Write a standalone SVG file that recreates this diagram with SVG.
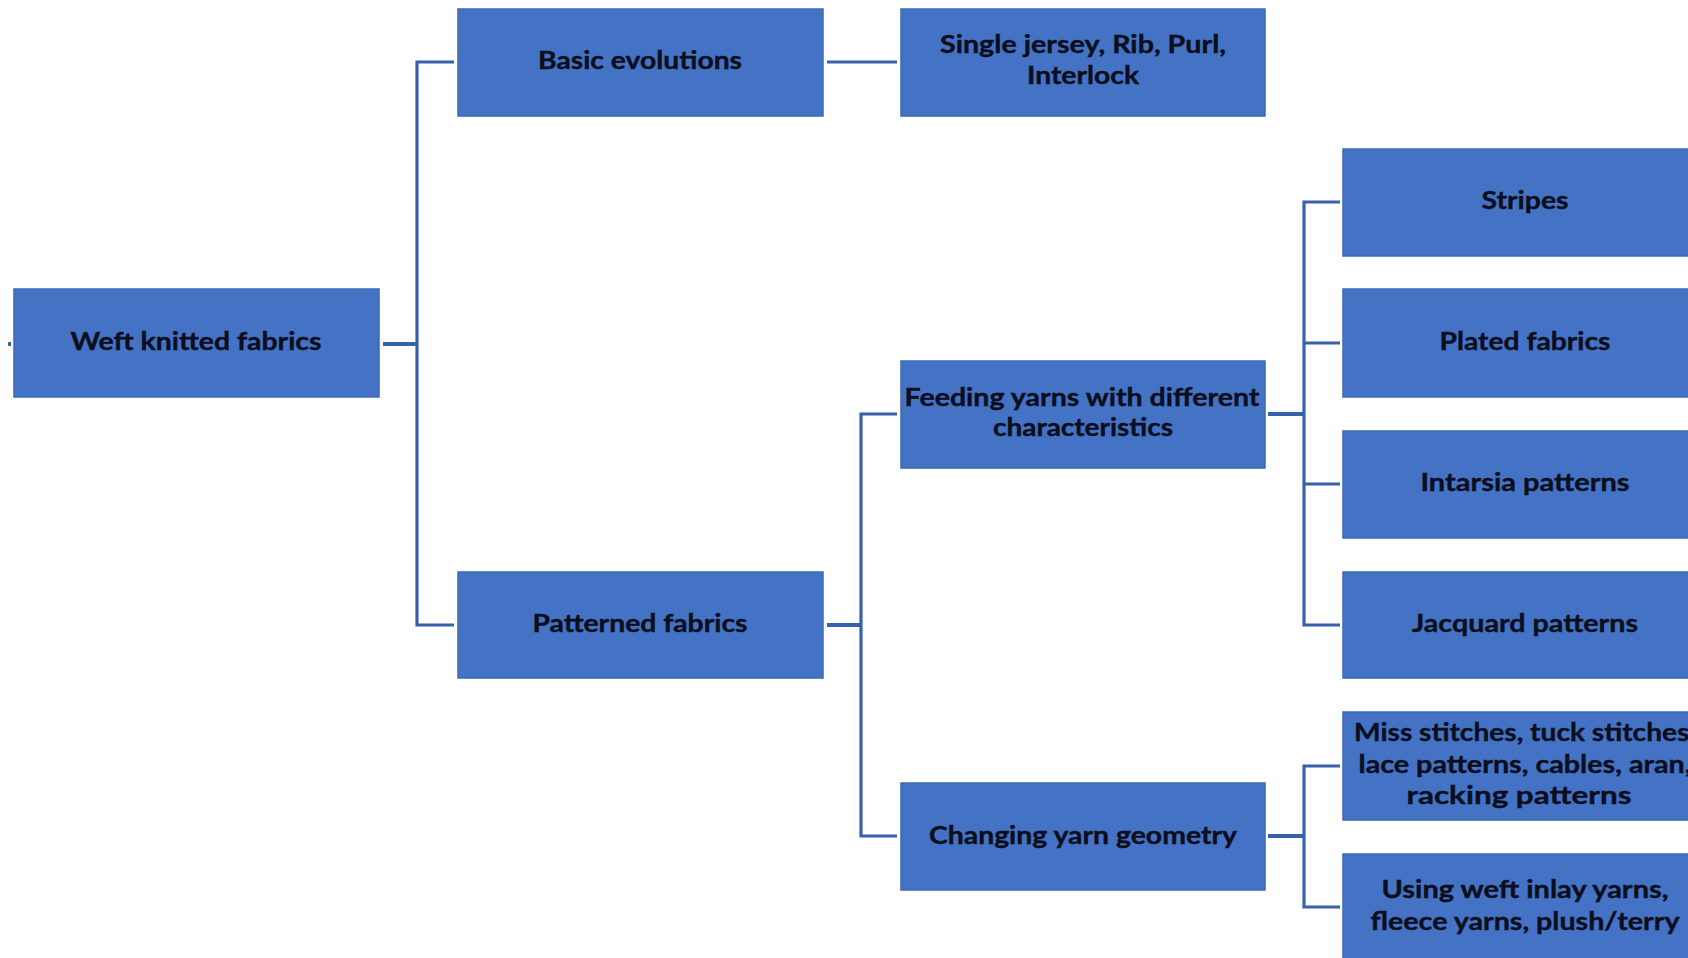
<svg xmlns="http://www.w3.org/2000/svg" width="1688" height="958" viewBox="0 0 1688 958">
  <style>
    .box { fill: #4472C4; stroke: #3d69b8; stroke-width: 1.5; }
    .lbl { font-family: Lato, "Open Sans", "Liberation Sans", sans-serif; font-weight: 700; font-size: 25px; fill: #0b0e1c; stroke: #0b0e1c; stroke-width: 0.4; text-anchor: middle; }
    .wire { fill: none; stroke: #3761aa; stroke-width: 3.2; }
    .stub { fill: none; stroke: #3761aa; stroke-width: 4; }
  </style>
  <rect width="1688" height="958" fill="#ffffff"/>

  <!-- connectors -->
  <g id="connectors">
    <path class="stub" d="M8 344 H11"/>
    <path class="stub" d="M383 344 H417"/>
    <path class="wire" d="M454 62 H417 V625 H454"/>
    <path class="wire" d="M827 62 H897"/>
    <path class="stub" d="M827 625 H861"/>
    <path class="wire" d="M897 414 H861 V836 H897"/>
    <path class="stub" d="M1268 414 H1304"/>
    <path class="wire" d="M1340 202 H1304 V625 H1340"/>
    <path class="wire" d="M1304 343 H1340"/>
    <path class="wire" d="M1304 484 H1340"/>
    <path class="stub" d="M1268 836 H1304"/>
    <path class="wire" d="M1340 766 H1304 V907 H1340"/>
  </g>

  <!-- level 0 -->
  <g id="weft-knitted-fabrics">
    <rect class="box" x="14" y="289" width="365" height="108"/>
    <text class="lbl" x="196" y="350" textLength="251" lengthAdjust="spacingAndGlyphs">Weft knitted fabrics</text>
  </g>

  <!-- level 1 -->
  <g id="basic-evolutions">
    <rect class="box" x="458" y="9" width="365" height="107"/>
    <text class="lbl" x="640" y="69" textLength="204" lengthAdjust="spacingAndGlyphs">Basic evolutions</text>
  </g>
  <g id="patterned-fabrics">
    <rect class="box" x="458" y="572" width="365" height="106"/>
    <text class="lbl" x="640" y="632" textLength="215" lengthAdjust="spacingAndGlyphs">Patterned fabrics</text>
  </g>

  <!-- level 2 -->
  <g id="single-jersey">
    <rect class="box" x="901" y="9" width="364" height="107"/>
    <text class="lbl" x="1083" y="53" textLength="286" lengthAdjust="spacingAndGlyphs">Single jersey, Rib, Purl,</text>
    <text class="lbl" x="1083" y="84" textLength="112" lengthAdjust="spacingAndGlyphs">Interlock</text>
  </g>
  <g id="feeding-yarns">
    <rect class="box" x="901" y="361" width="364" height="107"/>
    <text class="lbl" x="1082" y="406" textLength="355" lengthAdjust="spacingAndGlyphs">Feeding yarns with different</text>
    <text class="lbl" x="1083" y="436" textLength="180" lengthAdjust="spacingAndGlyphs">characteristics</text>
  </g>
  <g id="changing-yarn-geometry">
    <rect class="box" x="901" y="783" width="364" height="107"/>
    <text class="lbl" x="1083" y="844" textLength="308" lengthAdjust="spacingAndGlyphs">Changing yarn geometry</text>
  </g>

  <!-- level 3 -->
  <g id="stripes">
    <rect class="box" x="1343" y="149" width="365" height="107"/>
    <text class="lbl" x="1525" y="209" textLength="87" lengthAdjust="spacingAndGlyphs">Stripes</text>
  </g>
  <g id="plated-fabrics">
    <rect class="box" x="1343" y="289" width="365" height="108"/>
    <text class="lbl" x="1525" y="350" textLength="171" lengthAdjust="spacingAndGlyphs">Plated fabrics</text>
  </g>
  <g id="intarsia-patterns">
    <rect class="box" x="1343" y="431" width="365" height="107"/>
    <text class="lbl" x="1525" y="491" textLength="209" lengthAdjust="spacingAndGlyphs">Intarsia patterns</text>
  </g>
  <g id="jacquard-patterns">
    <rect class="box" x="1343" y="572" width="365" height="106"/>
    <text class="lbl" x="1525" y="632" textLength="226" lengthAdjust="spacingAndGlyphs">Jacquard patterns</text>
  </g>
  <g id="miss-stitches">
    <rect class="box" x="1343" y="712" width="365" height="108"/>
    <text class="lbl" x="1525" y="741" textLength="342" lengthAdjust="spacingAndGlyphs">Miss stitches, tuck stitches,</text>
    <text class="lbl" x="1525" y="773" textLength="333" lengthAdjust="spacingAndGlyphs">lace patterns, cables, aran,</text>
    <text class="lbl" x="1519" y="804" textLength="225" lengthAdjust="spacingAndGlyphs">racking  patterns</text>
  </g>
  <g id="weft-inlay">
    <rect class="box" x="1343" y="854" width="365" height="110"/>
    <text class="lbl" x="1525" y="898" textLength="287" lengthAdjust="spacingAndGlyphs">Using weft inlay yarns,</text>
    <text class="lbl" x="1525" y="930" textLength="309" lengthAdjust="spacingAndGlyphs">fleece yarns, plush/terry</text>
  </g>
</svg>
